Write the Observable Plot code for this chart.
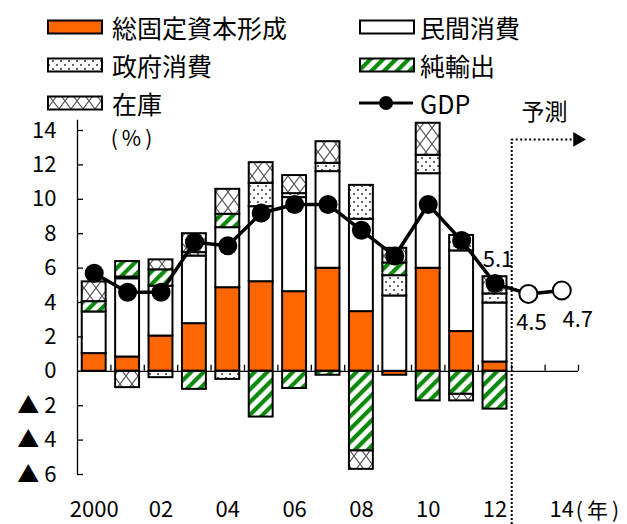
<!DOCTYPE html>
<html>
<head>
<meta charset="utf-8">
<script src="https://cdn.jsdelivr.net/npm/d3@7"></script>
<script src="https://cdn.jsdelivr.net/npm/@observablehq/plot@0.6"></script>
<style>
  body { margin: 0; background: #fff; font-family: "Noto Sans CJK JP", sans-serif; color: #000; }
  #wrap { position: relative; width: 627px; height: 524px; overflow: hidden; }
  #legend { position: absolute; left: 0; top: 0; width: 627px; height: 120px; pointer-events: none; }
  .sw { position: absolute; }
  .lt { position: absolute; font-size: 25px; line-height: 30px; white-space: nowrap; }
</style>
</head>
<body>
<!-- fill patterns shared by the bars and the legend swatches -->
<svg width="0" height="0" style="position:absolute">
  <defs>
    <pattern id="pat-gov" patternUnits="userSpaceOnUse" width="8" height="8">
      <rect width="8" height="8" fill="#fff"/>
      <circle cx="2" cy="2" r="1" fill="#333"/>
      <circle cx="6" cy="6" r="1" fill="#333"/>
    </pattern>
    <pattern id="pat-net" patternUnits="userSpaceOnUse" width="9" height="9" patternTransform="rotate(45)">
      <rect width="9" height="9" fill="#fff"/>
      <rect width="4.2" height="9" fill="#0b8a0b"/>
    </pattern>
    <pattern id="pat-stock" patternUnits="userSpaceOnUse" width="12" height="16">
      <rect width="12" height="16" fill="#fff"/>
      <path d="M0,0L12,16M12,0L0,16" stroke="#555" stroke-width="1.1" fill="none"/>
    </pattern>
  </defs>
</svg>

<div id="wrap">
  <div id="chart"></div>
  <div id="legend"></div>
</div>

<script>
// Contributions to real GDP growth by demand component (percentage points)
const years = [2000, 2001, 2002, 2003, 2004, 2005, 2006, 2007, 2008, 2009, 2010, 2011, 2012];
const investment         = [1.03, 0.83, 2.05, 2.77, 4.86, 5.21, 4.63, 5.99, 3.47, -0.23, 5.99, 2.31, 0.54];
const privateConsumption = [2.42, 4.55, 2.90, 3.93, 3.49, 4.36, 5.47, 5.62, 5.37, 4.38, 5.50, 4.69, 3.43];
const governmentConsumption = [0.00, 0.10, -0.37, 0.20, -0.47, 1.36, 0.23, 0.48, 1.97, 1.18, 1.07, 0.90, 0.53];
const netExports         = [0.60, 0.90, 0.95, -1.05, 0.78, -2.66, -1.00, -0.23, -4.63, 0.74, -1.72, -1.34, -2.20];
const inventories        = [1.15, -0.95, 0.58, 1.10, 1.45, 1.20, 1.05, 1.26, -1.07, 0.85, 1.86, -0.38, 1.00];

// GDP growth rate (%), 2013 and 2014 are forecasts
const gdpYears = [2000, 2001, 2002, 2003, 2004, 2005, 2006, 2007, 2008, 2009, 2010, 2011, 2012, 2013, 2014];
const gdpGrowth = [5.7, 4.6, 4.6, 7.5, 7.3, 9.2, 9.7, 9.7, 8.2, 6.7, 9.7, 7.6, 5.1, 4.5, 4.7];
const forecastFrom = 2013;

const seriesNames = ["総固定資本形成", "民間消費", "政府消費", "純輸出", "在庫"];
const seriesFills = ["#ff6600", "#ffffff", "url(#pat-gov)", "url(#pat-net)", "url(#pat-stock)"];
const seriesValues = [investment, privateConsumption, governmentConsumption, netExports, inventories];

const yTicks = [-6, -4, -2, 0, 2, 4, 6, 8, 10, 12, 14];
const xTicks = [2000, 2002, 2004, 2006, 2008, 2010, 2012, 2014];
const forecastLabel = "予測";
const unitLabel = "(%)";
const yearUnit = "(年)";

// long table for the stacked bars (positive and negative stacks are separate)
const bars = [];
years.forEach((year, i) => {
  seriesNames.forEach((name, j) => {
    const v = seriesValues[j][i];
    if (v !== 0) bars.push({year, series: name, value: v});
  });
});
const gdp = gdpYears.map((year, i) => ({year, value: gdpGrowth[i], forecast: year >= forecastFrom}));
const labelled = gdp.filter(d => d.year >= 2012);

const font = "'Noto Sans CJK JP', sans-serif";
const half = 0.358;
const x0 = 1999.5, x1 = 2014.5;

const chart = Plot.plot({
  width: 627,
  height: 524,
  marginLeft: 77,
  marginRight: 49,
  marginTop: 130,
  marginBottom: 50,
  x: {domain: [x0, x1], axis: null},
  y: {domain: [-6, 14], axis: null},
  color: {domain: seriesNames, range: seriesFills},
  style: {fontFamily: font, color: "#000", background: "transparent", overflow: "visible"},
  marks: [
    // stacked contribution bars
    Plot.rectY(bars, {
      x1: d => d.year - half,
      x2: d => d.year + half,
      y: "value",
      fill: "series",
      stroke: "#000",
      strokeWidth: 2
    }),
    // axes
    Plot.ruleX([x0], {y1: -6, y2: 14.6, stroke: "#000", strokeWidth: 1.3}),
    Plot.ruleY(yTicks, {x1: x0, x2: x0 + 0.18, stroke: "#000", strokeWidth: 1.3}),
    Plot.axisY({ticks: yTicks, label: null, tickSize: 0, tickPadding: 21, fontSize: 22, fontFamily: font,
      tickFormat: v => v < 0 ? "▲ " + (-v) : String(v)}),
    Plot.ruleY([0], {x1: x0, x2: x1, stroke: "#000", strokeWidth: 1.3}),
    Plot.ruleX(d3.range(2000.5, 2015, 1), {y1: 0, y2: 0.35, stroke: "#000", strokeWidth: 1.3}),
    Plot.axisX({ticks: xTicks, label: null, tickSize: 0, tickPadding: 27, fontSize: 22, fontFamily: font,
      tickFormat: v => v === 2000 ? "2000" : String(v % 100).padStart(2, "0")}),
    Plot.text([yearUnit], {x: 2014, y: -6, dx: 14, dy: 37, textAnchor: "start", lineAnchor: "middle",
      fontSize: 21, fontFamily: font}),
    Plot.text([unitLabel], {frameAnchor: "top-left", dx: 56, dy: 9, textAnchor: "middle", lineAnchor: "middle",
      fontSize: 21, fontFamily: font}),
    // forecast divider and arrow
    Plot.ruleX([2012.5], {y1: -8.9, y2: 13.48, stroke: "#000", strokeWidth: 2, strokeDasharray: "2,2"}),
    Plot.ruleY([13.48], {x1: 2012.5, x2: 2014.35, stroke: "#000", strokeWidth: 2, strokeDasharray: "2,2.5"}),
    Plot.dot([2014.47], {x: d => d, y: 13.48, symbol: "triangle", rotate: 90, r: 5.5, fill: "#000", stroke: null}),
    Plot.text([forecastLabel], {frameAnchor: "top-right", dx: -34, dy: -18, textAnchor: "middle", lineAnchor: "middle",
      fontSize: 23, fontFamily: font}),
    // GDP growth line
    Plot.line(gdp, {x: "year", y: "value", stroke: "#000", strokeWidth: 3.5}),
    Plot.dot(gdp.filter(d => !d.forecast), {x: "year", y: "value", r: 9.5, fill: "#000", stroke: null}),
    Plot.dot(gdp.filter(d => d.forecast), {x: "year", y: "value", r: 9, fill: "#fff", stroke: "#000", strokeWidth: 2}),
    Plot.text(labelled.filter(d => !d.forecast), {x: "year", y: "value", text: d => d.value.toFixed(1), dx: 3, dy: -24, fontSize: 22, fontFamily: font}),
    Plot.text(labelled.filter(d => d.year === 2013), {x: "year", y: "value", text: d => d.value.toFixed(1), dx: 3, dy: 29, fontSize: 22, fontFamily: font}),
    Plot.text(labelled.filter(d => d.year === 2014), {x: "year", y: "value", text: d => d.value.toFixed(1), dx: 16, dy: 29, fontSize: 22, fontFamily: font})
  ]
});
// widen the parenthesised unit labels
d3.select(chart).selectAll("text")
  .filter(function() { return this.textContent === unitLabel || this.textContent === yearUnit; })
  .attr("letter-spacing", "4px");
document.getElementById("chart").appendChild(chart);

// legend
const legendItems = [
  {label: "総固定資本形成", fill: "#ff6600", col: 0, row: 0},
  {label: "民間消費", fill: "#ffffff", col: 1, row: 0},
  {label: "政府消費", fill: "url(#pat-gov)", col: 0, row: 1},
  {label: "純輸出", fill: "url(#pat-net)", col: 1, row: 1},
  {label: "在庫", fill: "url(#pat-stock)", col: 0, row: 2},
  {label: "GDP", line: true, col: 1, row: 2}
];
const colSwatch = [47, 359];
const colText = [112, 420];
const rowCenter = [27, 65, 103];
const legend = d3.select("#legend");
for (const it of legendItems) {
  const cy = rowCenter[it.row];
  const svg = legend.append("svg").attr("class", "sw")
    .attr("width", 58).attr("height", 20)
    .style("left", colSwatch[it.col] + "px").style("top", (cy - 10) + "px");
  if (it.line) {
    svg.append("line").attr("x1", 0).attr("x2", 54).attr("y1", 10).attr("y2", 10)
      .attr("stroke", "#000").attr("stroke-width", 3);
    svg.append("circle").attr("cx", 27).attr("cy", 10).attr("r", 7).attr("fill", "#000");
  } else {
    svg.append("rect").attr("x", 1).attr("y", 3.5).attr("width", 54).attr("height", 13)
      .attr("fill", it.fill).attr("stroke", "#000").attr("stroke-width", 2);
  }
  legend.append("div").attr("class", "lt")
    .style("left", colText[it.col] + "px").style("top", (cy - 15) + "px")
    .text(it.label);
}
</script>
</body>
</html>
